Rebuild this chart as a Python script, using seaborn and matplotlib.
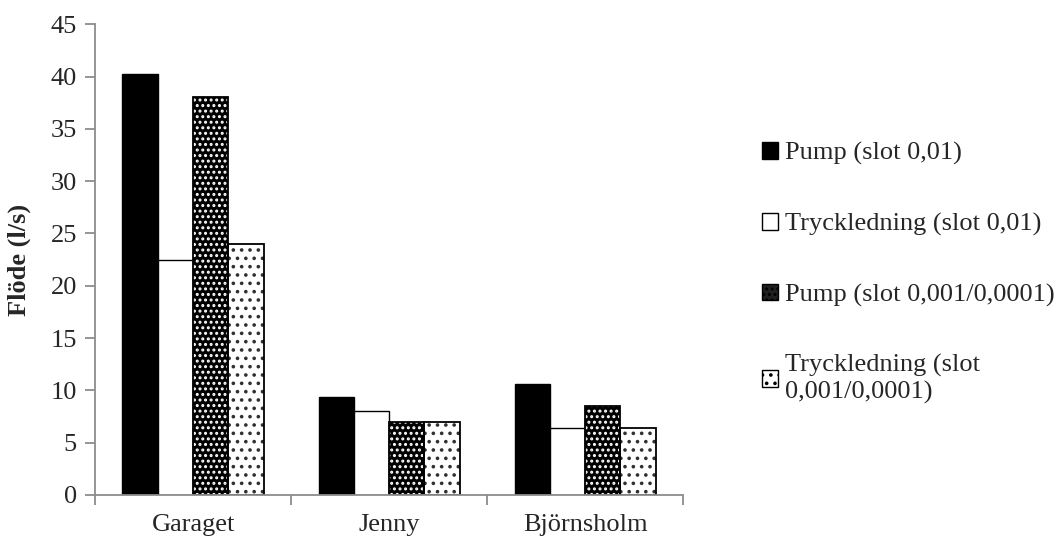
import matplotlib
matplotlib.use("Agg")
import matplotlib.pyplot as plt
from matplotlib.patches import Patch, Rectangle
import seaborn as sns
import pandas as pd

# Flow per station and measurement point
stations = ["Garaget", "Jenny", "Björnsholm"]
series = [
    "Pump (slot 0,01)",
    "Tryckledning (slot 0,01)",
    "Pump (slot 0,001/0,0001)",
    "Tryckledning (slot\n0,001/0,0001)",
]
pump_001 = [40.2, 9.4, 10.6]
tryck_001 = [22.5, 8.0, 6.4]
pump_0001 = [38.0, 7.0, 8.5]
tryck_0001 = [24.0, 7.0, 6.4]
y_ticks = [0, 5, 10, 15, 20, 25, 30, 35, 40, 45]

df = pd.DataFrame({
    "Station": stations * 4,
    "Serie": [s for s in series for _ in stations],
    "Flöde": pump_001 + tryck_001 + pump_0001 + tryck_0001,
})

sns.set_theme(style="white")
plt.rcParams["font.family"] = ["Liberation Serif", "DejaVu Serif"]
plt.rcParams["hatch.linewidth"] = 1.4
FS = 19

fig = plt.figure(figsize=(10.56, 5.38), dpi=100)
ax = fig.add_axes([0.09, 0.080, 0.557, 0.875])

sns.barplot(data=df, x="Station", y="Flöde", hue="Serie", order=stations,
            hue_order=series, width=0.72, ax=ax, legend=False, errorbar=None)

# fill, hatch colour, hatch pattern per series
styles = [
    ("black", None, ""),
    ("white", None, ""),
    ("black", "white", "..."),
    ("white", "#303030", ".."),
]
for cont, (fc, hc, hatch) in zip(ax.containers, styles):
    for bar in cont:
        bar.set_facecolor(fc)
        if hatch:
            bar.set_hatch(hatch)
            bar.set_edgecolor(hc)
            bar.set_linewidth(0)
            x, y = bar.get_xy()
            ax.add_patch(Rectangle((x, y), bar.get_width(), bar.get_height(),
                                   fill=False, edgecolor="black", linewidth=1.3,
                                   zorder=bar.get_zorder() + 0.1))
        else:
            bar.set_edgecolor("black")
            bar.set_linewidth(1.0)

ax.set_ylim(0, 45)
ax.set_xlim(-0.5, 2.5)
ax.set_yticks(y_ticks)
ax.set_yticklabels([str(v) for v in y_ticks], fontsize=FS)
ax.set_xticks([-0.5, 0.5, 1.5, 2.5])
ax.set_xticklabels([])
ax.set_xticks([0, 1, 2], minor=True)
ax.set_xticklabels(stations, minor=True, fontsize=FS)
ax.tick_params(axis="x", which="minor", length=0, pad=14)
ax.tick_params(axis="x", which="major", direction="out", length=7, width=1.3,
               color="#8c8c8c", bottom=True)
ax.tick_params(axis="y", direction="out", length=7, width=1.3, color="#8c8c8c",
               left=True, pad=6)
ax.set_xlabel("")
ax.set_ylabel("Flöde (l/s)", fontsize=FS, fontweight="bold", labelpad=14)

for side in ["top", "right"]:
    ax.spines[side].set_visible(False)
for side in ["left", "bottom"]:
    ax.spines[side].set_color("#8c8c8c")
    ax.spines[side].set_linewidth(1.3)

handles = []
for (fc, hc, hatch), name in zip(styles, series):
    if hatch:
        handles.append(Patch(facecolor="white" if fc == "white" else "#202020",
                             edgecolor="black", hatch=hatch, label=name))
    else:
        handles.append(Patch(facecolor=fc, edgecolor="black", label=name))

leg = fig.legend(handles=handles, loc="upper left", bbox_to_anchor=(0.712, 0.755),
                 frameon=False, fontsize=FS, handlelength=0.6, handleheight=0.6,
                 handletextpad=0.25, labelspacing=1.8, borderaxespad=0)

fig.savefig("out.png", dpi=100)
